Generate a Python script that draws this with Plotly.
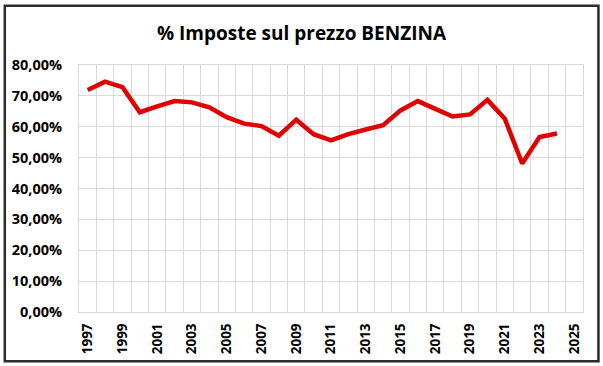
import plotly.graph_objects as go

years = list(range(1997, 2025))
tax_share_pct = [71.9, 74.6, 72.8, 64.7, 66.6, 68.3, 67.9, 66.3, 63.1, 61.0,
                 60.2, 57.1, 62.3, 57.6, 55.6, 57.6, 59.1, 60.5, 65.3, 68.3,
                 65.8, 63.3, 64.0, 68.7, 62.6, 48.1, 56.7, 57.8]
x_tick_years = list(range(1997, 2026, 2))
y_ticks = [0, 0.1, 0.2, 0.3, 0.4, 0.5, 0.6, 0.7, 0.8]
title_text = "% Imposte sul prezzo BENZINA"

fig = go.Figure()
fig.add_trace(go.Scatter(
    x=years,
    y=[v / 100 for v in tax_share_pct],
    mode="lines",
    line=dict(color="#e00000", width=4.5),
    hoverinfo="skip",
))

grid = "#d9d9d9"
W, H = 603, 366
L, R, T, B = 77, 20, 65, 53
pw, ph = W - L - R, H - T - B

def px2paper_x(px):
    return (px - L) / pw

def px2paper_y(py):
    return (H - B - py) / ph

fig.update_layout(
    width=W, height=H,
    margin=dict(l=L, r=R, t=T, b=B),
    paper_bgcolor="white",
    plot_bgcolor="white",
    separators=",.",
    showlegend=False,
    font=dict(family="Open Sans", color="#000000"),
    title=dict(text="<b>" + title_text + "</b>", x=0.5, xref="container",
               xanchor="center", y=1 - 33 / H, yanchor="middle",
               font=dict(size=19, family="Open Sans", color="#000000")),
    xaxis=dict(
        range=[1996.5, 2025.5],
        tickmode="array",
        tickvals=x_tick_years,
        ticktext=[str(y) for y in x_tick_years],
        tickangle=-90,
        showgrid=False,
        ticks="outside", ticklen=5, tickcolor="rgba(0,0,0,0)",
        showline=True, mirror=True, linecolor=grid, linewidth=1,
        tickfont=dict(size=13.5, family="Open Sans", color="#000000", weight="bold"),
        minor=dict(tick0=1996.5, dtick=1, showgrid=True, gridcolor=grid, gridwidth=1, ticks=""),
        zeroline=False,
        fixedrange=True,
    ),
    yaxis=dict(
        range=[0, 0.8],
        tickmode="array",
        tickvals=y_ticks,
        tickformat=".2%",
        showgrid=True, gridcolor=grid, gridwidth=1,
        showline=True, mirror=True, linecolor=grid, linewidth=1,
        ticks="outside", ticklen=13, tickcolor="rgba(0,0,0,0)",
        tickfont=dict(size=14.5, family="Open Sans", color="#000000", weight="bold"),
        zeroline=False,
        fixedrange=True,
    ),
)

fig.add_shape(type="rect", xref="paper", yref="paper",
              x0=px2paper_x(2.5), x1=px2paper_x(598.5),
              y0=px2paper_y(362.5), y1=px2paper_y(5.5),
              line=dict(color="#2b2b2b", width=2.5), fillcolor="rgba(0,0,0,0)",
              layer="below")

fig.write_html("out.html", config={"displayModeBar": False, "staticPlot": True},
               post_script="document.body.style.margin='0px';document.body.style.overflow='hidden';")
